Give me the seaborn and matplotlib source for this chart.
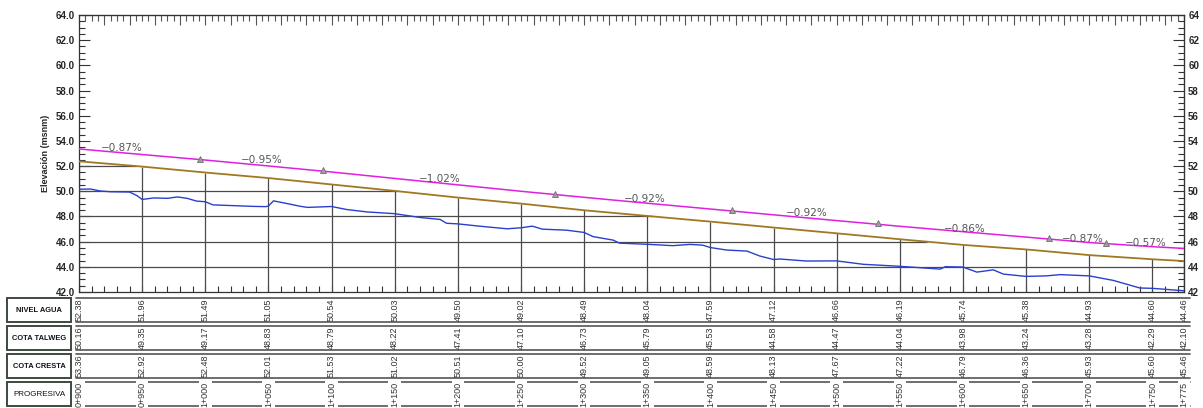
"""Perfil longitudinal: rasante, nivel de agua y talweg con tabla de cotas."""

import matplotlib
matplotlib.use("Agg")
import matplotlib.pyplot as plt
import matplotlib.transforms as mtransforms
from matplotlib.patches import Rectangle
from matplotlib.ticker import MultipleLocator, FormatStrFormatter
import numpy as np
import pandas as pd
import seaborn as sns

# --- data -------------------------------------------------------------------
stations = [900, 950, 1000, 1050, 1100, 1150, 1200, 1250, 1300, 1350,
            1400, 1450, 1500, 1550, 1600, 1650, 1700, 1750, 1775]
nivel_agua = [52.38, 51.96, 51.49, 51.05, 50.54, 50.03, 49.50, 49.02, 48.49, 48.04,
              47.59, 47.12, 46.66, 46.19, 45.74, 45.38, 44.93, 44.60, 44.46]
cota_talweg = [50.16, 49.35, 49.17, 48.83, 48.79, 48.22, 47.41, 47.10, 46.73, 45.79,
               45.53, 44.58, 44.47, 44.04, 43.98, 43.24, 43.28, 42.29, 42.10]
cota_cresta = [53.36, 52.92, 52.48, 52.01, 51.53, 51.02, 50.51, 50.00, 49.52, 49.05,
               48.59, 48.13, 47.67, 47.22, 46.79, 46.36, 45.93, 45.60, 45.46]

# detailed thalweg profile
talweg_x = [900, 909, 917, 925, 940, 946, 950, 959, 970, 978, 986, 993, 1000, 1006,
            1022, 1038, 1048, 1050, 1054, 1065, 1075, 1081, 1100, 1112, 1128, 1150,
            1170, 1186, 1191, 1200, 1217, 1239, 1250, 1259, 1267, 1286, 1300, 1307,
            1323, 1328, 1350, 1370, 1384, 1394, 1400, 1413, 1429, 1439, 1450, 1455,
            1476, 1500, 1521, 1550, 1582, 1586, 1600, 1611, 1624, 1632, 1650, 1666,
            1677, 1693, 1700, 1719, 1740, 1750, 1775]
talweg_z = [50.16, 50.18, 50.02, 49.96, 49.94, 49.65, 49.35, 49.47, 49.44, 49.55, 49.43,
            49.22, 49.17, 48.92, 48.86, 48.80, 48.78, 48.83, 49.24, 49.02, 48.81, 48.72,
            48.79, 48.55, 48.36, 48.22, 47.92, 47.76, 47.46, 47.41, 47.23, 47.02, 47.10,
            47.23, 46.99, 46.91, 46.73, 46.40, 46.12, 45.88, 45.79, 45.68, 45.78, 45.72,
            45.53, 45.33, 45.25, 44.86, 44.58, 44.62, 44.46, 44.47, 44.20, 44.04, 43.82,
            44.01, 43.98, 43.58, 43.76, 43.42, 43.24, 43.28, 43.38, 43.31, 43.28, 42.92,
            42.32, 42.29, 42.10]

# grade-change points and slope annotations
pvi_x = [996, 1093, 1277, 1417, 1533, 1668, 1713]
slope_labels = ["\u22120.87%", "\u22120.95%", "\u22121.02%", "\u22120.92%",
                "\u22120.92%", "\u22120.86%", "\u22120.87%", "\u22120.57%"]
slope_x = [934, 1045, 1186, 1348, 1476, 1601, 1695, 1745]
slope_y = [53.44, 52.48, 50.96, 49.36, 48.24, 47.04, 46.24, 45.92]

grid_levels = [44, 46, 48, 50, 52]
row_names = ["NIVEL AGUA", "COTA TALWEG", "COTA CRESTA", "PROGRESIVA"]

# --- style ------------------------------------------------------------------
sns.set_style("white")
FONT = ["Liberation Sans Narrow", "Liberation Sans", "DejaVu Sans"]
plt.rcParams["font.family"] = FONT

C_CRESTA = "#E020E0"
C_AGUA = "#A07820"
C_TALWEG = "#2A3FD0"
C_GRID = "#4a4a4a"

W, H = 1203, 408
fig = plt.figure(figsize=(W / 100, H / 100), dpi=100)
left, right, top, bottom = 79, 1184, 15, 292
ax = fig.add_axes([left / W, 1 - bottom / H, (right - left) / W, (bottom - top) / H])

# --- grid clipped under the water line --------------------------------------
xs = np.array(stations, dtype=float)
agua = np.array(nivel_agua)
ends = [np.interp(lv, agua[::-1], xs[::-1]) if lv < agua.max() else xs[0]
        for lv in grid_levels]
ax.hlines(grid_levels, xs[0], ends, color=C_GRID, lw=0.9, zorder=1)
ax.vlines(xs, 42, agua, color=C_GRID, lw=0.9, zorder=1)

# --- profiles ---------------------------------------------------------------
df_t = pd.DataFrame({"x": talweg_x, "z": talweg_z})
df_a = pd.DataFrame({"x": stations, "z": nivel_agua})
df_c = pd.DataFrame({"x": stations, "z": cota_cresta})
sns.lineplot(data=df_t, x="x", y="z", ax=ax, color=C_TALWEG, lw=1.0, zorder=3)
sns.lineplot(data=df_a, x="x", y="z", ax=ax, color=C_AGUA, lw=1.3, zorder=3)
sns.lineplot(data=df_c, x="x", y="z", ax=ax, color=C_CRESTA, lw=1.1, zorder=3)

pvi_y = np.interp(pvi_x, stations, cota_cresta) + 0.08
ax.plot(pvi_x, pvi_y, ls="none", marker="^", ms=4, mfc="#a0a0a0", mec="#707070",
        mew=0.6, zorder=4)
for t, sx, sy in zip(slope_labels, slope_x, slope_y):
    ax.text(sx, sy, t, ha="center", va="center", fontsize=7.5, color="#555555",
            family=["DejaVu Sans"])

# --- axes -------------------------------------------------------------------
ax.set_xlim(900, 1775)
ax.set_ylim(42, 64)
ax.set_xlabel("")
ax.set_ylabel("Elevación (msnm)", fontsize=6.5, fontweight="bold", labelpad=4)
for s in ax.spines.values():
    s.set_color("#333333")
    s.set_linewidth(0.9)

ax.xaxis.set_major_locator(MultipleLocator(50))
ax.xaxis.set_minor_locator(MultipleLocator(10))
ax.tick_params(axis="x", which="both", direction="in", bottom=True, top=False,
               labelbottom=False, length=4, color="#333333", width=0.8)
ax.yaxis.set_major_locator(MultipleLocator(2))
ax.yaxis.set_minor_locator(MultipleLocator(0.5))
ax.yaxis.set_major_formatter(FormatStrFormatter("%.1f"))
ax.tick_params(axis="y", which="major", direction="in", left=True, length=8,
               width=0.8, color="#333333", labelsize=7, pad=3)
ax.tick_params(axis="y", which="minor", direction="in", left=True, length=4,
               width=0.8, color="#333333")
for lb in ax.get_yticklabels():
    lb.set_fontweight("bold")

secx = ax.secondary_xaxis("top")
secx.xaxis.set_major_locator(MultipleLocator(20))
secx.xaxis.set_minor_locator(MultipleLocator(5))
secx.tick_params(which="major", direction="in", length=7, width=0.8, color="#555555",
                 labeltop=False)
secx.tick_params(which="minor", direction="in", length=4, width=0.8, color="#555555")
secx.spines["top"].set_color("#333333")

secy = ax.secondary_yaxis("right")
secy.yaxis.set_major_locator(MultipleLocator(2))
secy.yaxis.set_minor_locator(MultipleLocator(0.5))
secy.yaxis.set_major_formatter(FormatStrFormatter("%d"))
secy.tick_params(which="major", direction="in", length=8, width=0.8, color="#333333",
                 labelsize=7, pad=3)
secy.tick_params(which="minor", direction="in", length=4, width=0.8, color="#333333")
for lb in secy.get_yticklabels():
    lb.set_fontweight("bold")

# --- table below ------------------------------------------------------------
tab = fig.add_axes([left / W, 0, (right - left) / W, 112 / H], sharex=ax)
tab.set_ylim(4, 0)
tab.axis("off")
blend = mtransforms.blended_transform_factory(fig.transFigure, tab.transData)
x0_fig, x1_fig = 76 / W, 1190 / W

rows = [nivel_agua, cota_talweg, cota_cresta]
for i, name in enumerate(row_names):
    y0, y1 = i + 0.06, i + 0.94
    tab.add_patch(Rectangle((7 / W, y0), 64 / W, y1 - y0, transform=blend,
                            fill=False, ec="#3d4a3d", lw=1.4, clip_on=False))
    tab.text(39 / W, i + 0.5, name, transform=blend, ha="center", va="center",
             fontsize=5.4 if i < 3 else 5.8,
             fontweight="bold" if i < 3 else "normal", color="#111111")
    for yy in (y0, y1):
        tab.plot([x0_fig, x1_fig], [yy, yy], transform=blend, color="#555555",
                 lw=1.2, clip_on=False, zorder=1)
    if i < 3:
        for sx, v in zip(stations, rows[i]):
            tab.text(sx, i + 0.5, f"{v:.2f}", rotation=90, ha="center",
                     va="center", fontsize=6.5, color="#333333", clip_on=False)
    else:
        for sx in stations:
            lab = f"{sx // 1000}+{sx % 1000:03d}"
            tab.text(sx, i + 0.5, lab, rotation=90, ha="center", va="center",
                     fontsize=6.5, color="#333333", clip_on=False, zorder=3,
                     bbox=dict(boxstyle="square,pad=0.2", fc="white", ec="none"))

fig.savefig("out.png", dpi=100)
